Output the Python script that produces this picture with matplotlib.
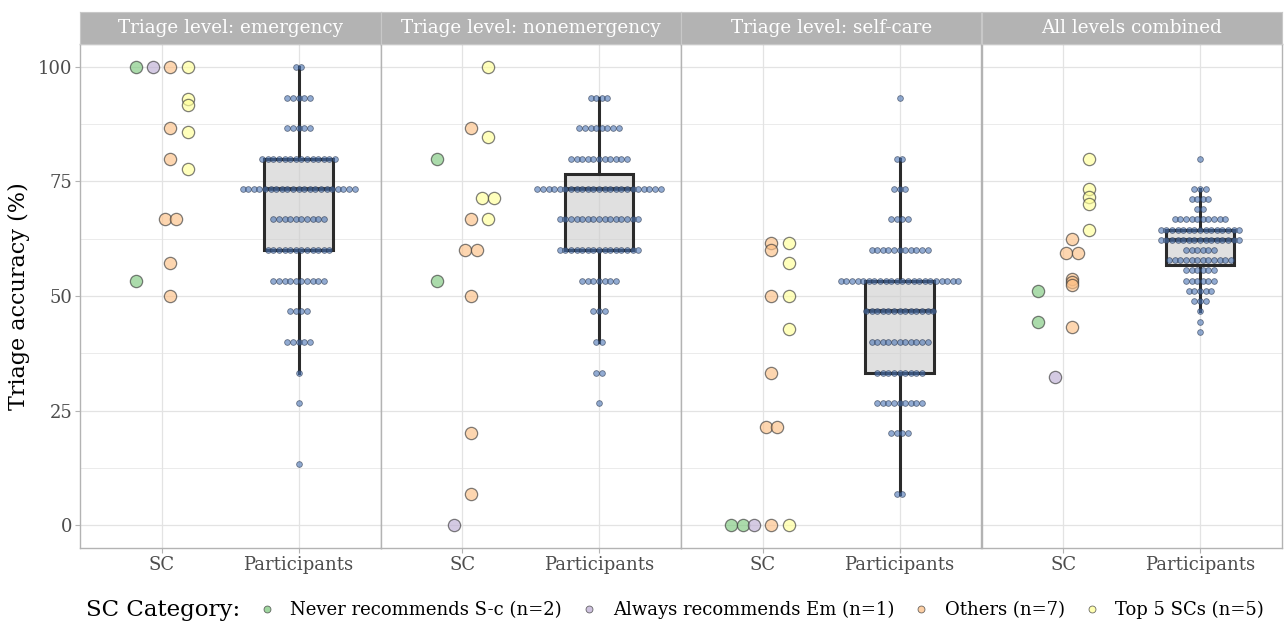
import matplotlib
matplotlib.use("Agg")
import numpy as np
import matplotlib.pyplot as plt
from matplotlib.lines import Line2D

plt.rcParams['font.family'] = ['DejaVu Serif']

# --- данные ---
panel_titles = ["Triage level: emergency", "Triage level: nonemergency",
                "Triage level: self-care", "All levels combined"]
x_labels = ["SC", "Participants"]

category_names = ["Never recommends S-c (n=2)", "Always recommends Em (n=1)",
                  "Others (n=7)", "Top 5 SCs (n=5)"]
category_colors = ["#7fc97f", "#beaed4", "#fdc086", "#ffff99"]

# точность SC по панелям (emergency, nonemergency, self-care, combined)
sc_never = [[100, 53.3], [80, 53.3], [0, 0], [51.1, 44.4]]
sc_always = [[100], [0], [0], [32.4]]
sc_others = [[100, 86.7, 80, 66.7, 66.7, 57.1, 50],
             [86.7, 66.7, 60, 60, 50, 20, 6.7],
             [61.5, 60, 50, 33.3, 21.4, 21.4, 0],
             [62.5, 59.3, 59.3, 53.7, 53.0, 52.3, 43.2]]
sc_top5 = [[100, 92.9, 91.7, 85.7, 77.8],
           [100, 84.6, 71.4, 71.4, 66.7],
           [61.5, 57.1, 50, 42.9, 0],
           [80, 73.3, 71.5, 70.1, 64.3]]
sc_groups = [sc_never, sc_always, sc_others, sc_top5]

# участники: уровень точности -> количество человек
part_levels = [
    [100, 93.3, 86.7, 80, 73.3, 66.7, 60, 53.3, 46.7, 40, 33.3, 26.7, 13.3],
    [93.3, 86.7, 80, 73.3, 66.7, 60, 53.3, 46.7, 40, 33.3, 26.7],
    [93.3, 80, 73.3, 66.7, 60, 53.3, 46.7, 40, 33.3, 26.7, 20, 6.7],
    [80.0, 73.3, 71.1, 68.9, 66.7, 64.4, 62.2, 60.0, 57.8, 55.6, 53.3,
     51.1, 48.9, 46.7, 44.4, 42.2],
]
part_counts = [
    [2, 5, 5, 14, 21, 10, 12, 10, 4, 5, 1, 1, 1],
    [4, 8, 11, 23, 15, 15, 7, 3, 2, 2, 1],
    [1, 2, 3, 4, 11, 22, 13, 11, 9, 9, 4, 2],
    [1, 3, 4, 2, 10, 15, 15, 6, 12, 6, 6, 5, 3, 1, 1, 1],
]

W, H = 1287, 623
fig = plt.figure(figsize=(W / 100, H / 100), dpi=100)

left_px, right_px = 80, 1282
top_px, bottom_px, strip_top_px = 44, 548, 12
pw = (right_px - left_px) / 4

grid_col = "#e3e3e3"
border_col = "#b3b3b3"
px_per_unit = pw / 2.2
sc_step = 11.8 / px_per_unit      # сдвиг для совпадающих точек SC
dot_step = 5.6 / px_per_unit      # шаг точек участников
dodge = [-0.1875, -0.0625, 0.0625, 0.1875]

for p in range(4):
    x0 = (left_px + p * pw) / W
    ax = fig.add_axes([x0, 1 - bottom_px / H, pw / W, (bottom_px - top_px) / H])

    # SC точки
    for g in range(4):
        vals = sc_groups[g][p]
        xs = []
        seen = {}
        for v in vals:
            k = vals.count(v)
            i = seen.get(v, 0)
            seen[v] = i + 1
            xs.append(1 + dodge[g] + (i - (k - 1) / 2) * sc_step)
        ax.scatter(xs, vals, s=78, color=category_colors[g], alpha=0.65,
                   edgecolors="#3a3a3a", linewidths=0.9, zorder=4)

    # участники: бокс + точки
    data = np.repeat(part_levels[p], part_counts[p])
    bp = ax.boxplot(data, positions=[2], widths=0.5, whis=1.5, showfliers=False,
                    patch_artist=True, showcaps=False, manage_ticks=False, zorder=2)
    for b in bp["boxes"]:
        b.set_facecolor((0.8, 0.8, 0.8, 0.6))
        b.set_edgecolor("#2b2b2b")
        b.set_linewidth(2.2)
    for w in bp["whiskers"]:
        w.set_color("#2b2b2b")
        w.set_linewidth(2.2)
    for m in bp["medians"]:
        m.set_color("#2b2b2b")
        m.set_linewidth(2.6)

    dx, dy = [], []
    for lvl, n in zip(part_levels[p], part_counts[p]):
        for i in range(n):
            dx.append(2 + (i - (n - 1) / 2) * dot_step)
            dy.append(lvl)
    ax.scatter(dx, dy, s=17, color="#4a74b4", alpha=0.6,
               edgecolors="#1f2d45", linewidths=0.6, zorder=3)

    ax.set_xlim(0.4, 2.6)
    ax.set_ylim(-5, 105)
    ax.set_yticks([0, 25, 50, 75, 100])
    ax.set_yticks([12.5, 37.5, 62.5, 87.5], minor=True)
    ax.set_xticks([1, 2])
    ax.set_xticklabels(x_labels)
    ax.grid(True, which="major", color=grid_col, linewidth=0.9)
    ax.grid(True, which="minor", axis="y", color=grid_col, linewidth=0.5)
    ax.set_axisbelow(True)
    ax.tick_params(axis="both", which="major", color=border_col, length=3.5,
                   labelsize=13, labelcolor="#4d4d4d", pad=2)
    ax.tick_params(axis="y", which="minor", length=0)
    if p == 0:
        ax.set_ylabel("Triage accuracy (%)", fontsize=16, labelpad=6)
    else:
        ax.tick_params(axis="y", which="major", length=0, labelleft=False)
    for s in ax.spines.values():
        s.set_color(border_col)
        s.set_linewidth(1.0)

    # заголовок панели
    sax = fig.add_axes([x0, 1 - top_px / H, pw / W, (top_px - strip_top_px) / H])
    sax.set_facecolor("#b3b3b3")
    sax.set_xticks([])
    sax.set_yticks([])
    for s in sax.spines.values():
        s.set_color("#c8c8c8")
        s.set_linewidth(0.8)
    sax.text(0.5, 0.5, panel_titles[p], ha="center", va="center",
             color="white", fontsize=13.2, transform=sax.transAxes)

# легенда
leg_y = 1 - 610 / H
fig.text(86 / W, leg_y, "SC Category:", ha="left", va="center", fontsize=16.5)
handles = [Line2D([], [], linestyle="none", marker="o", markersize=5,
                  markerfacecolor=c, markeredgecolor="#3a3a3a",
                  markeredgewidth=0.6, alpha=0.75) for c in category_colors]
fig.legend(handles, category_names, loc="center left",
           bbox_to_anchor=(258 / W, leg_y), ncol=4, frameon=False,
           fontsize=13, handletextpad=0.8, columnspacing=1.0,
           handlelength=1.0, borderpad=0, borderaxespad=0)

fig.savefig("out.png", dpi=100)
